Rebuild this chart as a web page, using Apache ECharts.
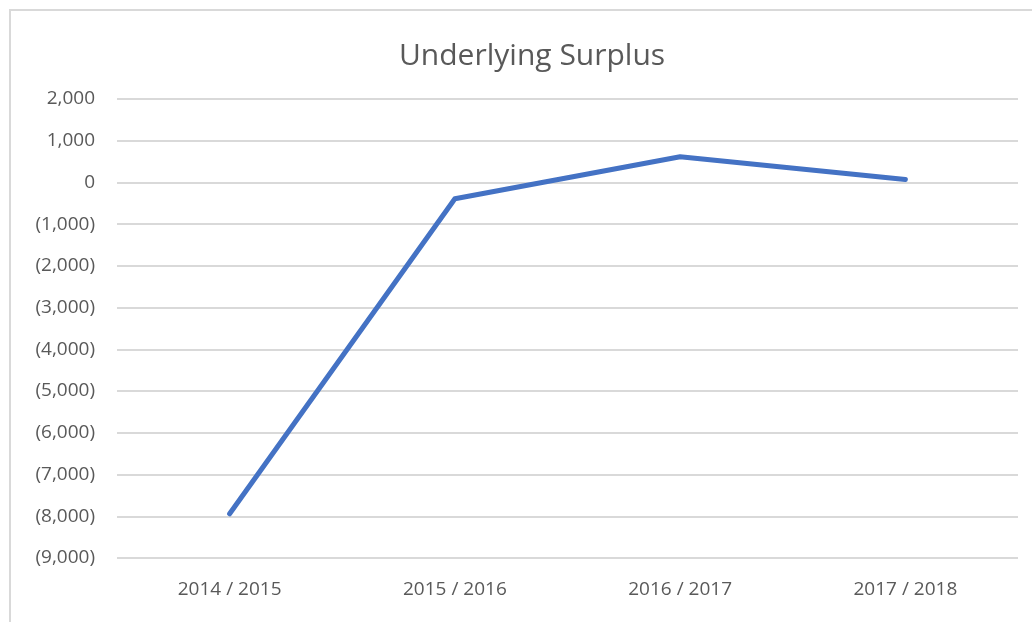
<!DOCTYPE html>
<html lang="en">
<head>
    <meta charset="UTF-8">
    <script type="text/javascript" src="https://cdn.jsdelivr.net/npm/echarts@6/dist/echarts.min.js"></script>
    <title>Underlying Surplus</title>
    <style>
        html, body { margin: 0; padding: 0; background: #fff; }
    </style>
</head>
<body>

<div style="width: 1032px; height: 622px" id="surplusChart"></div>

<script>
    var years = ['2014 / 2015', '2015 / 2016', '2016 / 2017', '2017 / 2018'];
    var surplus = [-7940, -390, 615, 70];

    // axis labels like Excel: negatives in brackets, thousands separator
    var fmt = function (v) {
        var s = Math.abs(v).toString().replace(/\B(?=(\d{3})+(?!\d))/g, ',');
        return v < 0 ? '(' + s + ')' : s;
    };

    var mCharts = echarts.init(document.getElementById('surplusChart'));

    var option = {
        animation: false,
        textStyle: { fontFamily: 'Open Sans, sans-serif' },
        graphic: [{
            type: 'rect',
            shape: { x: 10, y: 10, width: 1100, height: 700 },
            style: { fill: 'none', stroke: '#d9d9d9', lineWidth: 2 }
        }],
        title: {
            text: 'Underlying Surplus',
            left: 394,
            top: 36,
            textStyle: { color: '#595959', fontSize: 30, fontWeight: 'normal' }
        },
        grid: { left: 117, right: 14, top: 99, bottom: 64 },
        xAxis: {
            type: 'category',
            data: years,
            axisLine: { show: false },
            axisTick: { show: false },
            axisLabel: { color: '#595959', fontSize: 19, margin: 22 }
        },
        yAxis: {
            type: 'value',
            min: -9000,
            max: 2000,
            interval: 1000,
            axisLine: { show: false },
            axisTick: { show: false },
            axisLabel: { color: '#595959', fontSize: 19, margin: 22, formatter: fmt },
            splitLine: { lineStyle: { color: '#d9d9d9', width: 2 } }
        },
        series: [{
            type: 'line',
            data: surplus,
            symbol: 'none',
            lineStyle: { color: '#4472c4', width: 5, cap: 'round', join: 'round' }
        }]
    };
    mCharts.setOption(option);
</script>

</body>
</html>
